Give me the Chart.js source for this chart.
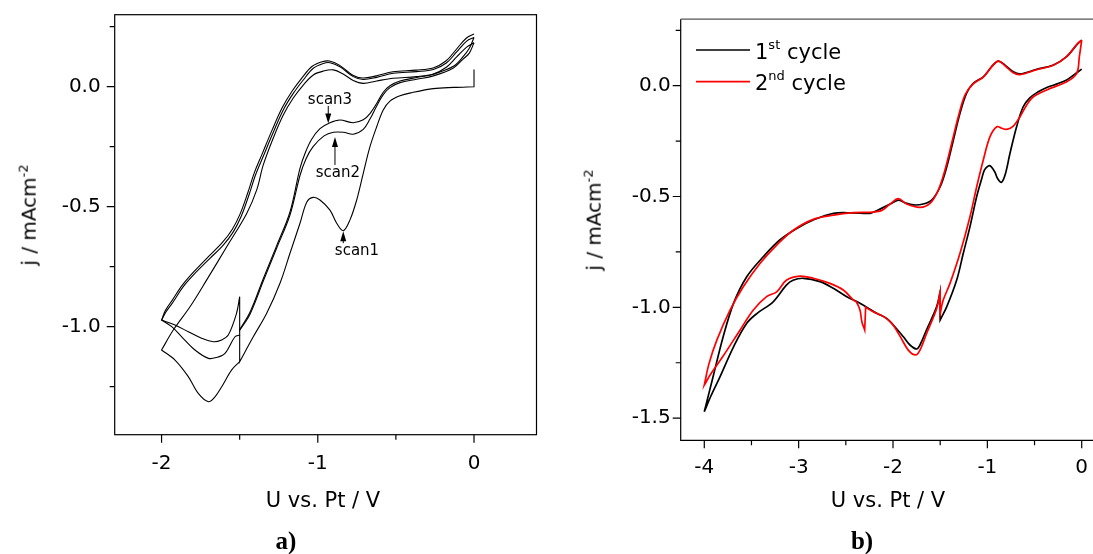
<!DOCTYPE html>
<html lang="en">
<head>
<meta charset="UTF-8">
<title>Cyclic voltammograms</title>
<script src="https://cdn.jsdelivr.net/npm/chart.js"></script>
<style>
  body { margin: 0; width: 1093px; height: 554px; overflow: hidden; background: #fff; position: relative; font-family: 'DejaVu Sans', sans-serif; color: #000; }
  canvas { position: absolute; top: 0; }
  #chartA { left: 0; }
  #chartB { left: 560px; }
  .xtitle { position: absolute; font-size: 21px; white-space: nowrap; transform: translate(-50%, -50%); }
  .ytitle { position: absolute; font-size: 20px; white-space: nowrap; transform: translate(-50%, -50%) rotate(-90deg); }
  .ytitle sup { font-size: 13px; }
  .plabel { position: absolute; font-family: 'Liberation Serif', serif; font-weight: bold; font-size: 25px; transform: translate(-50%, -50%); }
</style>
</head>
<body>
<canvas id="chartA" width="560" height="554"></canvas>
<canvas id="chartB" width="560" height="554"></canvas>

<div class="ytitle" style="left:28px; top:215px;">j / mAcm<sup>-2</sup></div>
<div class="ytitle" style="left:593px; top:220px;">j / mAcm<sup>-2</sup></div>
<div class="xtitle" style="left:323px; top:500px;">U vs. Pt / V</div>
<div class="xtitle" style="left:888px; top:500px;">U vs. Pt / V</div>
<div class="plabel" style="left:286px; top:541px;">a)</div>
<div class="plabel" style="left:862px; top:541px;">b)</div>

<script>
// ---- panel a: three scans (U in V, j in mA/cm2) ----
const scan1U = [0.0, 0.0, 0.0, -0.13, -0.26, -0.40, -0.474, -0.538, -0.581, -0.623, -0.666, -0.709, -0.751, -0.794, -0.837, -0.879, -0.922, -0.986, -1.029, -1.07, -1.114, -1.178, -1.242, -1.327, -1.413, -1.5, -1.5, -1.5, -1.5, -1.5, -1.5, -1.551, -1.615, -1.658, -1.70, -1.765, -1.829, -1.914, -2.0, -2.0, -1.925, -1.818, -1.711, -1.583, -1.455, -1.391, -1.349, -1.285, -1.221, -1.157, -1.093, -1.029, -0.965, -0.9, -0.838, -0.773, -0.709, -0.623, -0.517, -0.367, -0.26, -0.175, -0.111, -0.047, 0.0];
const scan1J = [0.072, 0.0, 0.0, -0.003, -0.008, -0.025, -0.038, -0.06, -0.097, -0.167, -0.25, -0.361, -0.472, -0.555, -0.6, -0.569, -0.514, -0.472, -0.461, -0.48, -0.569, -0.694, -0.819, -0.944, -1.042, -1.146, -1.146, -1.035, -1.035, -1.146, -1.146, -1.18, -1.25, -1.292, -1.3125, -1.278, -1.208, -1.139, -1.097, -1.097, -1.014, -0.917, -0.805, -0.667, -0.528, -0.43, -0.326, -0.214, -0.118, -0.047, 0.007, 0.049, 0.065, 0.07, 0.053, 0.026, 0.014, 0.024, 0.035, 0.042, 0.053, 0.082, 0.124, 0.165, 0.183];

const scan2U = [0.0, 0.0, -0.03, -0.07, -0.132, -0.26, -0.367, -0.474, -0.538, -0.581, -0.623, -0.666, -0.709, -0.773, -0.836, -0.9, -0.96, -1.03, -1.075, -1.114, -1.178, -1.263, -1.349, -1.434, -1.5, -1.5, -1.5, -1.5, -1.52, -1.573, -1.615, -1.669, -1.744, -1.829, -1.914, -2.0, -2.0, -1.971, -1.925, -1.861, -1.776, -1.69, -1.605, -1.541, -1.49, -1.44, -1.40, -1.349, -1.285, -1.221, -1.157, -1.093, -1.029, -0.965, -0.922, -0.858, -0.773, -0.709, -0.623, -0.517, -0.367, -0.26, -0.175, -0.111, -0.047, 0.0];
const scan2J = [0.183, 0.183, 0.14, 0.115, 0.078, 0.045, 0.031, 0.017, -0.004, -0.033, -0.08, -0.135, -0.178, -0.198, -0.19, -0.19, -0.205, -0.25, -0.3, -0.37, -0.535, -0.672, -0.81, -0.948, -1.015, -1.015, -0.875, -0.875, -0.944, -1.035, -1.055, -1.0625, -1.048, -1.021, -0.993, -0.972, -0.972, -0.938, -0.896, -0.833, -0.771, -0.715, -0.66, -0.605, -0.54, -0.45, -0.37, -0.29, -0.19, -0.097, -0.028, 0.028, 0.077, 0.097, 0.1, 0.083, 0.042, 0.03, 0.039, 0.056, 0.063, 0.072, 0.1, 0.145, 0.19, 0.205];

const scan3U = [0.0, 0.0, -0.03, -0.07, -0.132, -0.26, -0.367, -0.474, -0.538, -0.581, -0.623, -0.666, -0.709, -0.773, -0.858, -0.922, -0.986, -1.04, -1.08, -1.114, -1.178, -1.263, -1.349, -1.434, -1.5, -1.5, -1.5, -1.5, -1.53, -1.594, -1.647, -1.70, -1.786, -1.871, -1.935, -2.0, -2.0, -1.975, -1.93, -1.866, -1.782, -1.697, -1.612, -1.548, -1.497, -1.447, -1.407, -1.356, -1.292, -1.228, -1.164, -1.1, -1.036, -0.972, -0.926, -0.862, -0.776, -0.711, -0.625, -0.519, -0.369, -0.262, -0.178, -0.114, -0.05, 0.0];
const scan3J = [0.205, 0.205, 0.16, 0.125, 0.085, 0.052, 0.038, 0.024, 0.004, -0.023, -0.07, -0.112, -0.138, -0.15, -0.139, -0.15, -0.175, -0.22, -0.275, -0.34, -0.522, -0.662, -0.8, -0.94, -1.012, -1.012, -1.035, -1.035, -1.042, -1.111, -1.128, -1.132, -1.097, -1.042, -1.0, -0.972, -0.972, -0.932, -0.888, -0.826, -0.763, -0.706, -0.65, -0.595, -0.53, -0.44, -0.36, -0.28, -0.18, -0.088, -0.018, 0.038, 0.085, 0.104, 0.107, 0.09, 0.048, 0.036, 0.045, 0.062, 0.069, 0.078, 0.108, 0.155, 0.202, 0.22];

// ---- panel b: 1st and 2nd cycle ----
const cyc1U = [0.0, -0.08, -0.16, -0.26, -0.37, -0.47, -0.55, -0.62, -0.69, -0.76, -0.81, -0.85, -0.89, -0.92, -0.96, -0.99, -1.03, -1.06, -1.113, -1.184, -1.255, -1.325, -1.43, -1.5, -1.5, -1.5, -1.5, -1.537, -1.643, -1.714, -1.749, -1.82, -1.89, -1.997, -2.067, -2.173, -2.35, -2.49, -2.633, -2.774, -2.95, -3.06, -3.13, -3.27, -3.44, -3.55, -3.69, -3.83, -3.93, -4.0, -4.0, -3.905, -3.80, -3.69, -3.55, -3.375, -3.20, -3.02, -2.845, -2.63, -2.42, -2.244, -2.173, -2.03, -1.944, -1.873, -1.785, -1.68, -1.59, -1.50, -1.43, -1.36, -1.29, -1.22, -1.15, -1.04, -0.954, -0.884, -0.813, -0.725, -0.654, -0.477, -0.30, -0.16, -0.053, 0.0];
const cyc1J = [0.075, 0.05, 0.026, 0.008, -0.008, -0.03, -0.055, -0.095, -0.185, -0.305, -0.40, -0.436, -0.42, -0.39, -0.365, -0.362, -0.38, -0.42, -0.50, -0.636, -0.756, -0.877, -0.997, -1.057, -1.057, -0.93, -0.93, -0.997, -1.10, -1.17, -1.188, -1.17, -1.133, -1.08, -1.05, -1.027, -0.982, -0.952, -0.914, -0.884, -0.869, -0.878, -0.9, -0.975, -1.027, -1.072, -1.178, -1.31, -1.40, -1.471, -1.471, -1.31, -1.133, -0.982, -0.862, -0.772, -0.696, -0.644, -0.606, -0.576, -0.574, -0.576, -0.564, -0.534, -0.516, -0.528, -0.538, -0.534, -0.516, -0.456, -0.366, -0.245, -0.125, -0.034, 0.011, 0.041, 0.086, 0.111, 0.093, 0.063, 0.053, 0.074, 0.093, 0.131, 0.184, 0.206];

const cyc2U = [0.0, 0.0, -0.025, -0.053, -0.159, -0.371, -0.513, -0.583, -0.654, -0.725, -0.795, -0.848, -0.90, -0.972, -1.043, -1.113, -1.184, -1.29, -1.396, -1.47, -1.5, -1.5, -1.5, -1.5, -1.537, -1.643, -1.714, -1.76, -1.838, -1.926, -2.014, -2.10, -2.21, -2.29, -2.29, -2.30, -2.30, -2.33, -2.35, -2.39, -2.42, -2.527, -2.668, -2.845, -2.986, -3.127, -3.233, -3.34, -3.48, -3.62, -3.80, -3.93, -4.0, -4.0, -3.95, -3.868, -3.727, -3.587, -3.41, -3.233, -3.057, -2.845, -2.63, -2.42, -2.138, -2.03, -1.944, -1.855, -1.714, -1.608, -1.52, -1.449, -1.378, -1.308, -1.237, -1.15, -1.04, -0.954, -0.884, -0.813, -0.725, -0.654, -0.477, -0.30, -0.16, -0.053, 0.0];
const cyc2J = [0.206, 0.206, 0.131, 0.056, 0.018, -0.019, -0.05, -0.087, -0.14, -0.182, -0.197, -0.192, -0.185, -0.23, -0.335, -0.456, -0.591, -0.756, -0.892, -0.97, -1.03, -1.03, -0.93, -0.93, -1.005, -1.117, -1.193, -1.215, -1.193, -1.13, -1.072, -1.042, -1.02, -1.0, -1.0, -1.102, -1.102, -1.065, -1.012, -0.975, -0.967, -0.922, -0.892, -0.869, -0.859, -0.877, -0.93, -0.952, -1.012, -1.102, -1.22, -1.30, -1.351, -1.351, -1.254, -1.149, -1.013, -0.907, -0.802, -0.719, -0.652, -0.603, -0.584, -0.573, -0.566, -0.534, -0.51, -0.534, -0.549, -0.531, -0.471, -0.38, -0.26, -0.14, -0.042, 0.008, 0.04, 0.086, 0.111, 0.09, 0.058, 0.05, 0.072, 0.092, 0.131, 0.186, 0.206];

// ticks
const aXMajor = [-2, -1, 0], aXMinor = [-1.5, -0.5];
const aYMajor = [0, -0.5, -1], aYMinor = [0.25, -0.25, -0.75, -1.25];
const bXMajor = [-4, -3, -2, -1, 0], bXMinor = [-3.5, -2.5, -1.5, -0.5];
const bYMajor = [0, -0.5, -1, -1.5], bYMinor = [0.25, -0.25, -0.75, -1.25];

const scanNames = ['scan1', 'scan2', 'scan3'];
const cycleNames = [['1', 'st', ' cycle'], ['2', 'nd', ' cycle']];

Chart.defaults.font.family = "'DejaVu Sans', sans-serif";
Chart.defaults.color = '#000';

function zip(us, js) {
  return us.map((u, i) => ({ x: u, y: js[i] }));
}

function axisPlugin(xMaj, xMin, yMaj, yMin, openRight) {
  return {
    id: 'frameTicks',
    afterDraw(chart) {
      const { ctx, chartArea: a, scales: { x, y } } = chart;
      ctx.save();
      ctx.strokeStyle = '#000';
      ctx.lineWidth = 1.2;
      ctx.beginPath();
      xMaj.forEach(v => { const p = x.getPixelForValue(v); ctx.moveTo(p, a.bottom); ctx.lineTo(p, a.bottom + 8); });
      xMin.forEach(v => { const p = x.getPixelForValue(v); ctx.moveTo(p, a.bottom); ctx.lineTo(p, a.bottom + 5); });
      yMaj.forEach(v => { const p = y.getPixelForValue(v); ctx.moveTo(a.left, p); ctx.lineTo(a.left - 8, p); });
      yMin.forEach(v => { const p = y.getPixelForValue(v); ctx.moveTo(a.left, p); ctx.lineTo(a.left - 5, p); });
      ctx.stroke();
      if (openRight) {
        ctx.beginPath();
        ctx.moveTo(a.left, a.top);
        ctx.lineTo(a.left, a.bottom);
        ctx.lineTo(a.right, a.bottom);
        ctx.stroke();
        ctx.strokeStyle = '#555';
        ctx.beginPath();
        ctx.moveTo(a.left, a.top);
        ctx.lineTo(a.right, a.top);
        ctx.stroke();
      } else {
        ctx.strokeRect(a.left, a.top, a.right - a.left, a.bottom - a.top);
      }
      ctx.restore();
    }
  };
}

// arrows and scan labels in panel a
const scanNotes = [
  { text: scanNames[0], tx: -0.749, ty: -0.684, ax: -0.837, from: -0.652, to: -0.602 },
  { text: scanNames[1], tx: -0.871, ty: -0.36, ax: -0.89, from: -0.326, to: -0.21 },
  { text: scanNames[2], tx: -0.922, ty: -0.056, ax: -0.933, from: -0.08, to: -0.153 }
];
const notePlugin = {
  id: 'scanNotes',
  afterDatasetsDraw(chart) {
    const { ctx, scales: { x, y } } = chart;
    ctx.save();
    ctx.fillStyle = '#000';
    ctx.strokeStyle = '#000';
    ctx.lineWidth = 1;
    ctx.font = "15px 'DejaVu Sans'";
    ctx.textAlign = 'center';
    ctx.textBaseline = 'middle';
    scanNotes.forEach(n => {
      ctx.fillText(n.text, x.getPixelForValue(n.tx), y.getPixelForValue(n.ty));
      const px = x.getPixelForValue(n.ax);
      const p0 = y.getPixelForValue(n.from), p1 = y.getPixelForValue(n.to);
      const dir = p1 > p0 ? 1 : -1;
      ctx.beginPath();
      ctx.moveTo(px, p0);
      ctx.lineTo(px, p1 - dir * 8);
      ctx.stroke();
      ctx.beginPath();
      ctx.moveTo(px, p1);
      ctx.lineTo(px - 3, p1 - dir * 10);
      ctx.lineTo(px + 3, p1 - dir * 10);
      ctx.closePath();
      ctx.fill();
    });
    ctx.restore();
  }
};

// legend of panel b with superscripts
const legendPlugin = {
  id: 'cycleLegend',
  afterDraw(chart) {
    const { ctx } = chart;
    const rows = [{ color: '#000', y: 50 }, { color: '#ff0000', y: 81.7 }];
    ctx.save();
    rows.forEach((r, i) => {
      ctx.strokeStyle = r.color;
      ctx.lineWidth = 1.7;
      ctx.beginPath();
      ctx.moveTo(136, r.y);
      ctx.lineTo(190, r.y);
      ctx.stroke();
      const parts = cycleNames[i];
      ctx.fillStyle = '#000';
      ctx.textBaseline = 'alphabetic';
      ctx.textAlign = 'left';
      let xp = 195;
      const base = r.y + 8.5;
      ctx.font = "21px 'DejaVu Sans'";
      ctx.fillText(parts[0], xp, base);
      xp += ctx.measureText(parts[0]).width;
      ctx.font = "13px 'DejaVu Sans'";
      ctx.fillText(parts[1], xp, base - 10);
      xp += ctx.measureText(parts[1]).width;
      ctx.font = "21px 'DejaVu Sans'";
      ctx.fillText(parts[2], xp, base);
    });
    ctx.restore();
  }
};

function makeScales(xr, yr, xMaj, yMaj, yFmt, leftW, bottomH, xPad, yPad) {
  return {
    x: {
      type: 'linear', min: xr[0], max: xr[1],
      grid: { display: false, drawTicks: false }, border: { display: false },
      afterBuildTicks: s => { s.ticks = xMaj.map(v => ({ value: v })); },
      afterFit: s => { s.height = bottomH; s.paddingLeft = 0; s.paddingRight = 0; },
      ticks: { padding: xPad, font: { size: 20 }, color: '#000', maxRotation: 0, autoSkip: false, callback: v => String(v) }
    },
    y: {
      type: 'linear', min: yr[0], max: yr[1],
      grid: { display: false, drawTicks: false }, border: { display: false },
      afterBuildTicks: s => { s.ticks = yMaj.map(v => ({ value: v })); },
      afterFit: s => { s.width = leftW; s.paddingTop = 0; s.paddingBottom = 0; },
      ticks: { padding: yPad, font: { size: 20 }, color: '#000', autoSkip: false, callback: yFmt }
    }
  };
}

const lineStyle = (color, w) => ({ borderColor: color, borderWidth: w, pointRadius: 0, showLine: true, tension: 0.35, fill: false });

new Chart(document.getElementById('chartA'), {
  type: 'scatter',
  data: {
    datasets: [
      Object.assign({ label: scanNames[0], data: zip(scan1U, scan1J) }, lineStyle('#000', 1.1)),
      Object.assign({ label: scanNames[1], data: zip(scan2U, scan2J) }, lineStyle('#000', 1.1)),
      Object.assign({ label: scanNames[2], data: zip(scan3U, scan3J) }, lineStyle('#000', 1.1))
    ]
  },
  options: {
    responsive: false, animation: false,
    layout: { padding: { left: 0, top: 14.7, right: 23.5, bottom: 0 } },
    plugins: { legend: { display: false }, tooltip: { enabled: false } },
    scales: makeScales([-2.3, 0.4], [-1.45, 0.3], aXMajor, aYMajor, v => v.toFixed(1), 114.7, 554 - 434.7, 17, 14)
  },
  plugins: [axisPlugin(aXMajor, aXMinor, aYMajor, aYMinor, false), notePlugin]
});

new Chart(document.getElementById('chartB'), {
  type: 'scatter',
  data: {
    datasets: [
      Object.assign({ label: '1st cycle', data: zip(cyc1U, cyc1J), order: 1 }, lineStyle('#000', 1.7)),
      Object.assign({ label: '2nd cycle', data: zip(cyc2U, cyc2J), order: 0 }, lineStyle('#ff0000', 1.7))
    ]
  },
  options: {
    responsive: false, animation: false,
    layout: { padding: { left: 0, top: 19.2, right: 14.7, bottom: 0 } },
    plugins: { legend: { display: false }, tooltip: { enabled: false } },
    scales: makeScales([-4.25, 0.25], [-1.6, 0.3], bXMajor, bYMajor, v => v.toFixed(1), 120.7, 554 - 440.3, 15, 10)
  },
  plugins: [axisPlugin(bXMajor, bXMinor, bYMajor, bYMinor, true), legendPlugin]
});
</script>
</body>
</html>
